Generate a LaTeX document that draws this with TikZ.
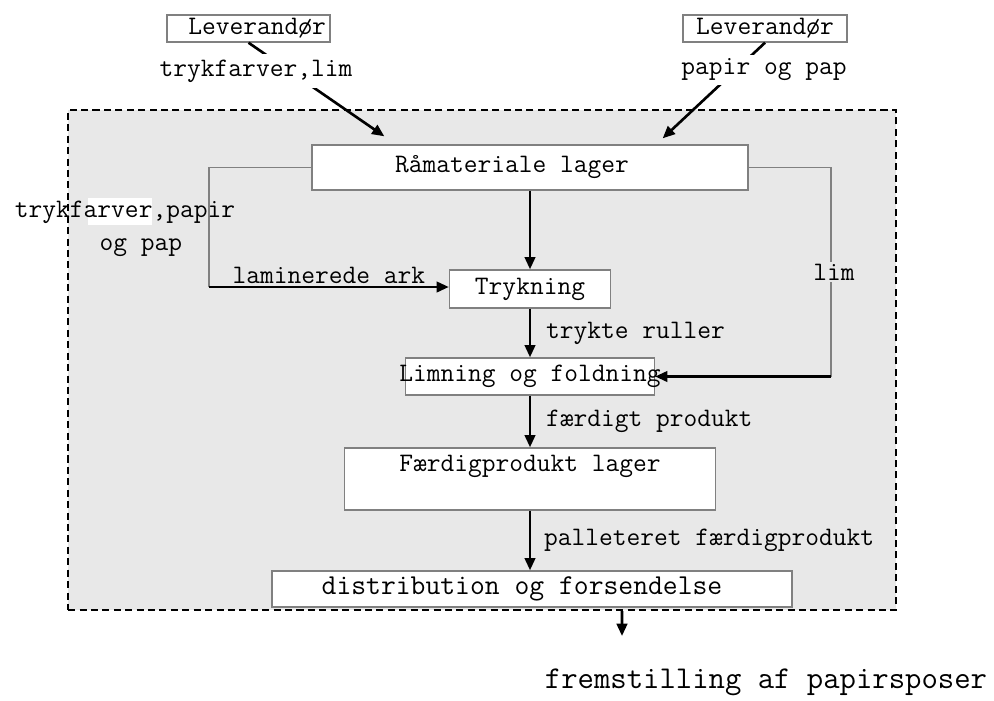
\documentclass[tikz,border=0pt]{standalone}
\usepackage{fontspec}
\usepackage{tikz}
\usetikzlibrary{arrows.meta, positioning}
\definecolor{bggray}{HTML}{E8E8E8}
\definecolor{edgegray}{HTML}{808080}

\begin{document}
\begin{tikzpicture}[
    x=0.02cm, y=-0.02cm,
    >={Triangle[length=7pt, width=6pt]},
    box/.style={draw=edgegray, fill=white, line width=0.8pt, inner sep=0pt, font=\ttfamily\fontsize{15.2}{18}\selectfont},
    lbl/.style={inner sep=1pt, font=\ttfamily\fontsize{15.2}{18}\selectfont},
    flow/.style={->, line width=1.5pt},
    loopline/.style={draw=edgegray, line width=0.7pt},
]
    \useasboundingbox (0,0) rectangle (994,700);

    % System boundary
    \node[draw, dash pattern=on 4pt off 2.5pt, line width=1.4pt, fill=bggray, minimum width=16.56cm, minimum height=10cm] (sys) at (482,360) {};

    % Suppliers
    \node[box, minimum width=3.26cm, minimum height=0.54cm] (lev1) at (248.5,28.5) {\makebox[3.1cm][r]{Leverandør}};
    \node[box, minimum width=3.28cm, minimum height=0.54cm] (lev2) at (765,28.5) {Leverandør};

    % Process steps
    \node[box, minimum width=8.72cm, minimum height=0.9cm] (ram) at (530,167.5) {Råmateriale lager\hspace*{0.72cm}};
    \node[box, minimum width=3.22cm, minimum height=0.76cm] (tryk) at (530,289) {Trykning};
    \node[box, minimum height=0.74cm] (limfold) at (530,376.5) {\makebox[4.98cm]{Limning og foldning}};
    \node[box, minimum width=7.42cm, minimum height=1.24cm, align=center] (lager) at (530,479) {Færdigprodukt lager\\\mbox{}};
    \node[box, minimum width=10.4cm, minimum height=0.72cm, font=\ttfamily\fontsize{16.4}{19}\selectfont] (dist) at (532,589) {distribution og forsendelse\hspace*{0.4cm}};

    % Supplier deliveries
    \draw[flow] (lev1.south) -- ([xshift=1.46cm, yshift=0.16cm]ram.north west);
    \node[lbl, fill=white, minimum height=0.7cm] (lev1lbl) at (256,71) {trykfarver,lim};
    \draw[flow] (lev2.south) -- ([xshift=-1.72cm, yshift=0.12cm]ram.north east);
    \node[lbl, fill=white, minimum height=0.6cm] (lev2lbl) at (764,70) {papir og pap};

    % Main flow
    \draw[flow] (ram) -- (tryk);
    \draw[flow] (tryk) -- node[lbl, anchor=west, xshift=0.26cm] {trykte ruller} (limfold);
    \draw[flow] (limfold) -- node[lbl, anchor=west, xshift=0.26cm] {færdigt produkt} (lager);
    \draw[flow] (lager) -- node[lbl, anchor=west, xshift=0.22cm] {palleteret færdigprodukt} (lager |- dist.north);

    % Side feeds
    \coordinate (lamcorner) at (209,287);
    \draw[loopline] (ram.west) -| (lamcorner);
    \draw[flow] (lamcorner) -- node[lbl, above] {laminerede ark} (lamcorner -| tryk.west);
    \fill[white] (88,198) rectangle (152,225);
    \node[lbl, align=center, font=\ttfamily\fontsize{15.2}{18.7}\selectfont] (inlbl) at (125,229) {trykfarver,papir\\\hspace*{0.64cm}og pap};

    \coordinate (limcorner) at (831,376.5);
    \draw[loopline] (ram.east) -| (limcorner);
    \node[lbl, fill=bggray] (limlbl) at (834,272) {lim};
    \draw[flow] (limcorner) -- (limfold.east);

    % Output
    \coordinate (out) at ([xshift=2.8cm]sys.south);
    \coordinate (outend) at (622,636);
    \draw[flow] (out) -- (outend);
    \node[lbl, font=\ttfamily\fontsize{18.1}{21}\selectfont] (prod) at (766,682) {fremstilling af papirsposer};
\end{tikzpicture}
\end{document}
